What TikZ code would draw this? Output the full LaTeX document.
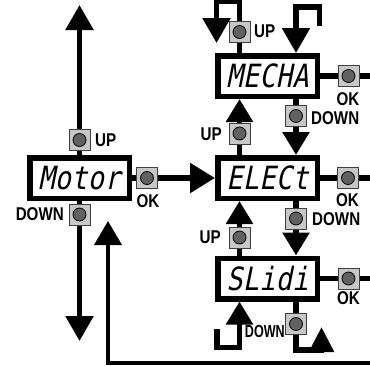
\documentclass[tikz,border=0pt]{standalone}
\usepackage{fontspec}
\usetikzlibrary{arrows.meta}
\newfontfamily\segfont{DejaVu Sans Mono}[FakeStretch=0.84,FakeSlant=0.2,LetterSpace=1]
\newfontfamily\labfont{Liberation Sans}[FakeStretch=0.82]
\newfontfamily\labnfont{Liberation Sans}[FakeStretch=0.72]
\begin{document}
\begin{tikzpicture}[x=1pt,y=-1pt,
  disp/.style={draw, line width=5.5pt, fill=white, minimum width=99.5pt, minimum height=40.5pt, inner sep=0pt,
    font=\segfont\fontsize{32}{32}\selectfont},
  btn/.style={draw=black!75, line width=1pt, fill=black!22, minimum size=21pt, inner sep=0pt,
    path picture={\draw[black, line width=0.8pt, fill=black!62] (path picture bounding box.center) circle (6.5pt);}},
  lbl/.style={font=\labfont\bfseries\fontsize{18.5}{18.5}\selectfont, inner sep=0pt},
  lbln/.style={font=\labnfont\bfseries\fontsize{17.5}{17.5}\selectfont, inner sep=0pt},
  wire/.style={line width=5.5pt},
  arr/.style={line width=5.5pt, -{Triangle[width=27pt,length=25pt]}},
  sarr/.style={line width=5.5pt, -{Triangle[width=26pt,length=23pt]}},
  ret/.style={line width=4pt, -{Triangle[width=27pt,length=24pt]}}
]
\fill[white] (0,0) rectangle (370,365);
\useasboundingbox (0,0) rectangle (370,365);

% displays
\node[disp] (motor) at (79.5,178) {Motor};
\node[disp] (mecha) at (267.5,76) {MECHA};
\node[disp] (elect) at (267.5,178) {ELECt};
\node[disp] (slidi) at (267.5,278.5) {SLidi};

% buttons
\node[btn] (motorup) at (79.5,140) {};
\node[btn] (motordown) at (79.5,214.5) {};
\node[btn] (motorok) at (147,178) {};
\node[btn] (mechaup) at (239.5,32) {};
\node[btn] (mechaok) at (348.5,76) {};
\node[btn] (mechadown) at (296,116) {};
\node[btn] (electup) at (239.5,133.5) {};
\node[btn] (electok) at (348,178) {};
\node[btn] (electdown) at (296,218.5) {};
\node[btn] (slidiup) at (239.5,237.5) {};
\node[btn] (slidiok) at (348.5,278.5) {};
\node[btn] (slididown) at (296,324) {};

% labels
\node[lbl, anchor=west] (lmu) at (95,140) {UP};
\node[lbl, anchor=east] (lmd) at (64,214.5) {DOWN};
\node[lbl] (lmo) at (148,201) {OK};
\node[lbl, anchor=west] (lcu) at (254,31) {UP};
\node[lbl] (lco) at (348,99) {OK};
\node[lbl, anchor=west] (lcd) at (311,118.5) {DOWN};
\node[lbl, anchor=east] (leu) at (222,134) {UP};
\node[lbl] (leo) at (347.5,200) {OK};
\node[lbl, anchor=west] (led) at (312,219) {DOWN};
\node[lbl, anchor=east] (lsu) at (221,237.5) {UP};
\node[lbl] (lso) at (348.5,298.5) {OK};
\node[lbln, anchor=east] (lsd) at (285,331) {DOWN};

% free ends
\coordinate (topend) at (79.5,5);
\coordinate (botend) at (79.5,341);
\coordinate (retstart) at (372,362.5);
\coordinate (retend) at (108,221);
\coordinate (mloopend) at (216.5,43);
\coordinate (rl0) at (319.5,26);
\coordinate (rl1) at (319.5,7);
\coordinate (sl0) at (217,329);
\coordinate (sl1) at (217,347.5);
\coordinate (sd1) at (296,350);
\coordinate (sd2) at (321.5,350);
\coordinate (sd3) at (321.5,352.5);
\coordinate (sd4) at (321.5,327);
\coordinate (mout) at (372,76);
\coordinate (eout) at (372,178);
\coordinate (sout) at (372,278.5);

% Motor
\draw[wire] (motor.north) -- (motorup.south);
\draw[arr] (motorup.north) -- (topend);
\draw[wire] (motor.south) -- (motordown.north);
\draw[arr] (motordown.south) -- (botend);
\draw[wire] (motor.east) -- (motorok.west);
\draw[line width=5.5pt, -{Triangle[width=29pt,length=25pt]}] (motorok.east) -- (elect.west);
\draw[ret] (retstart) -| (retend);

% MECHA
\draw[wire] (mecha.north -| mechaup.south) -- (mechaup.south);
\draw[arr] (mechaup.north) -- ++(0,-19.5) -| (mloopend);
\draw[arr] (rl0) -- (rl1) -| (mecha.north -| mechadown.north);
\draw[wire] (mecha.east) -- (mechaok.west);
\draw[wire] (mechaok.east) -- (mout);
\draw[wire] (mecha.south -| mechadown.north) -- (mechadown.north);
\draw[sarr] (mechadown.south) -- (elect.north -| mechadown.south);

% ELECt
\draw[wire] (elect.north -| electup.south) -- (electup.south);
\draw[sarr] (electup.north) -- (mecha.south -| electup.north);
\draw[wire] (elect.east) -- (electok.west);
\draw[wire] (electok.east) -- (eout);
\draw[wire] (elect.south -| electdown.north) -- (electdown.north);
\draw[sarr] (electdown.south) -- (slidi.north -| electdown.south);

% SLidi
\draw[wire] (slidi.north -| slidiup.south) -- (slidiup.south);
\draw[sarr] (slidiup.north) -- (elect.south -| slidiup.north);
\draw[wire] (slidi.east) -- (slidiok.west);
\draw[wire] (slidiok.east) -- (sout);
\draw[sarr] (sl0) -- (sl1) -| (slidi.south -| slidiup.north);
\draw[wire] (slidi.south -| slididown.north) -- (slididown.north);
\draw[wire] (slididown.south) -- (sd1) -- (sd2);
\draw[line width=5.5pt, -{Triangle[width=24pt,length=25pt]}] (sd3) -- (sd4);
\end{tikzpicture}
\end{document}
